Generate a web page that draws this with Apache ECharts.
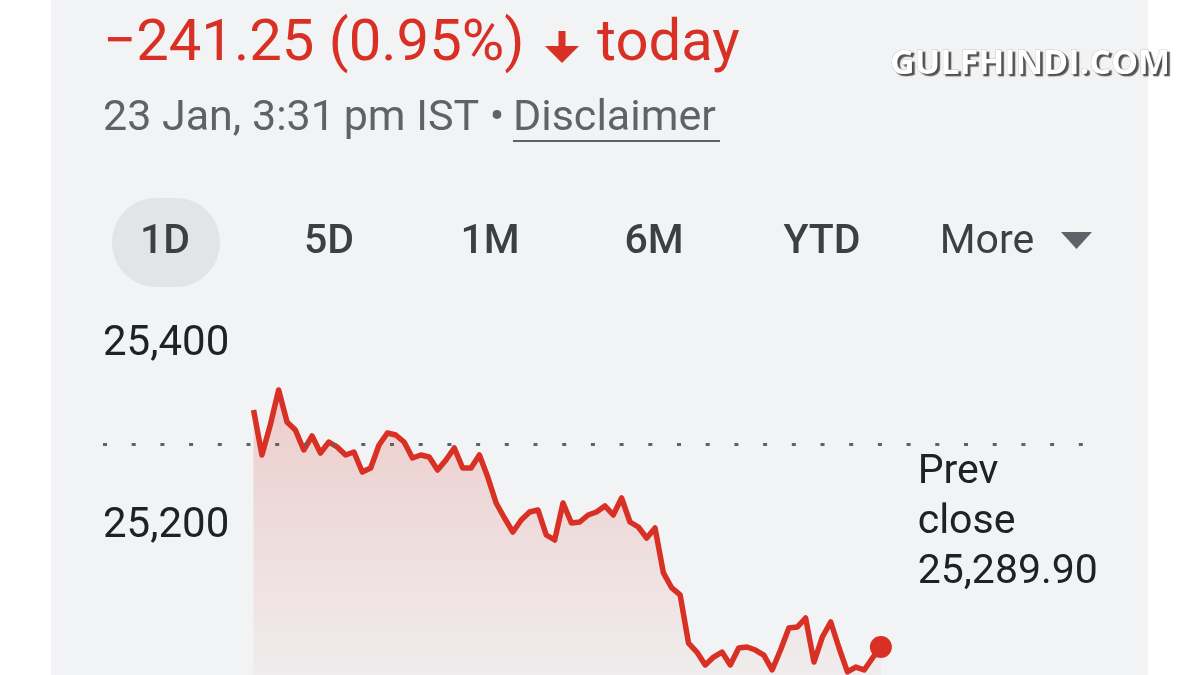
<!DOCTYPE html>
<html><head><meta charset="utf-8">
<script src="https://cdn.jsdelivr.net/npm/echarts@6/dist/echarts.min.js"></script>
<style>
html,body{margin:0;padding:0;background:#fff;}
#c{width:1200px;height:675px;background:linear-gradient(to right,#fff 0,#fff 51px,#f1f3f4 51px,#f1f3f4 1148px,#fff 1148px);}
</style></head><body><div id="c"></div>
<script>
// ---- data ----
const changeText = '\u2212241.25 (0.95%)';
const todayText = 'today';
const dateText = '23 Jan, 3:31\u2009pm IST \u2022';
const disclaimerText = 'Disclaimer';
const rangeTabs = ['1D', '5D', '1M', '6M', 'YTD', 'More'];
const watermark = 'GULFHINDI.COM';
const yMin = 25000, yMax = 25400, yStep = 200;
const PREV_CLOSE = 25289.90;
// 5-minute intraday prices
const prices = [
  25327.5, 25278.0, 25311.0, 25349.5, 25314.3, 25305.5, 25283.5, 25298.9, 25280.2, 25292.3,
  25286.8, 25278.0, 25281.3, 25259.3, 25263.7, 25289.0, 25302.2, 25300.0, 25292.3, 25274.7,
  25278.0, 25275.8, 25261.5, 25272.5, 25285.7, 25263.7, 25263.7, 25278.0, 25253.8, 25225.3,
  25208.8, 25193.4, 25206.6, 25215.4, 25217.6, 25190.1, 25184.6, 25225.3, 25203.3, 25204.4,
  25212.1, 25215.4, 25222.0, 25212.1, 25230.8, 25204.4, 25198.9, 25186.8, 25197.8, 25148.4,
  25131.9, 25124.2, 25071.4, 25061.5, 25047.3, 25056.0, 25061.5, 25047.3, 25065.9, 25067.0,
  25063.7, 25058.2, 25041.8, 25063.7, 25087.9, 25089.0, 25098.9, 25050.5, 25078.0, 25094.5,
  25065.9, 25039.6, 25045.0, 25041.8, 25055.0, 25067.0
];

const RED = '#d93025';
const chart = echarts.init(document.getElementById('c'), null, {renderer: 'canvas'});
const last = prices.length - 1;
const seriesData = prices.map((v, i) => i === last
  ? {value: [i, v], symbol: 'circle', symbolSize: 22, itemStyle: {color: RED}}
  : [i, v]);

const tabX = [165, 329, 490, 654, 822, 987];
const graphic = [
  {type: 'text', x: 103, y: 45, style: {text: changeText, fill: RED, font: '400 58px Roboto', verticalAlign: 'middle'}},
  {type: 'polygon', shape: {points: [[558.5, 31], [565.5, 31], [565.5, 46], [579, 46], [562, 63], [545, 46], [558.5, 46]]}, style: {fill: RED}},
  {type: 'text', x: 597, y: 45, style: {text: todayText, fill: RED, font: '400 58px Roboto', verticalAlign: 'middle'}},
  {type: 'text', x: 103, y: 119, style: {text: dateText, fill: '#5f6368', font: '400 43px Roboto', verticalAlign: 'middle'}},
  {type: 'text', x: 513, y: 119, style: {text: disclaimerText, fill: '#5f6368', font: '400 43px Roboto', verticalAlign: 'middle'}},
  {type: 'line', shape: {x1: 513, y1: 141, x2: 720, y2: 141}, style: {stroke: '#5f6368', lineWidth: 2}},
  {type: 'rect', shape: {x: 112, y: 198, width: 108, height: 89, r: 44}, style: {fill: '#e2e5e8'}},
  {type: 'polygon', shape: {points: [[1061, 232], [1092, 232], [1076.5, 249]]}, style: {fill: '#5f6368'}},
  {type: 'text', x: 890, y: 64, z: 100, style: {text: watermark, fill: '#ffffff', font: '700 34px "Open Sans"', verticalAlign: 'middle',
    stroke: '#9a9a9a', lineWidth: 0.5, textShadowColor: '#505050', textShadowOffsetX: 2.5, textShadowOffsetY: 2.5, textShadowBlur: 1}}
];
rangeTabs.forEach((t, i) => {
  graphic.push({type: 'text', x: tabX[i], y: 243, style: {text: t, fill: '#3c4043',
    font: (t === 'More' ? '400' : '500') + ' 41px Roboto', align: 'center', verticalAlign: 'middle'}});
});

chart.setOption({
  animation: false,
  backgroundColor: 'transparent',
  graphic: graphic,
  grid: {left: 103, right: 110, top: 344, bottom: -33, containLabel: false, outerBoundsMode: 'none'},
  xAxis: {type: 'value', min: -18, max: 100, show: false},
  yAxis: {
    type: 'value', min: yMin, max: yMax, interval: yStep,
    axisLine: {show: false}, axisTick: {show: false}, splitLine: {show: false},
    axisLabel: {inside: true, margin: 0, fontSize: 42, color: '#202124', fontFamily: 'Roboto',
      showMaxLabel: true, formatter: v => v.toLocaleString('en-US')}
  },
  series: [{
    type: 'line', data: seriesData, symbol: 'none', showSymbol: true,
    lineStyle: {color: RED, width: 5.5, join: 'round'},
    itemStyle: {color: RED},
    areaStyle: {color: new echarts.graphic.LinearGradient(0, 0, 0, 1, [
      {offset: 0, color: 'rgba(217,48,37,0.28)'},
      {offset: 1, color: 'rgba(217,48,37,0.02)'}
    ])},
    markLine: {
      silent: true, symbol: ['none', 'none'], label: {show: false},
      lineStyle: {color: '#5f6368', type: [4, 24.7], width: 3, cap: 'butt'},
      data: [{yAxis: PREV_CLOSE}]
    },
    markPoint: {
      silent: true, symbol: 'circle', symbolSize: 0,
      data: [{coord: [79.4, PREV_CLOSE]}],
      label: {show: true, position: [0, 4], align: 'left', verticalAlign: 'top',
        formatter: 'Prev\nclose\n' + PREV_CLOSE.toLocaleString('en-US', {minimumFractionDigits: 2}),
        fontSize: 41, lineHeight: 50, color: '#202124', fontFamily: 'Roboto'}
    }
  }]
});
</script></body></html>
